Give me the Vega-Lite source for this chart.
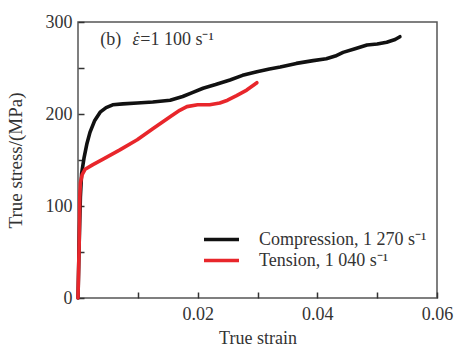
{
  "$schema": "https://vega.github.io/schema/vega-lite/v6.json",
  "width": 359,
  "height": 276,
  "autosize": {"type": "none"},
  "padding": {"left": 78, "top": 22, "right": 17, "bottom": 48},
  "background": "white",
  "config": {
    "view": {"stroke": "#555555", "strokeWidth": 1.5},
    "font": "Liberation Serif",
    "axis": {
      "grid": false,
      "domain": false,
      "zindex": 1,
      "tickSize": -6,
      "tickColor": "#333333",
      "tickWidth": 1.5,
      "labelFont": "Liberation Serif",
      "labelFontSize": 18,
      "labelColor": "#333333",
      "titleFont": "Liberation Serif",
      "titleFontSize": 18,
      "titleFontWeight": "normal",
      "titleColor": "#333333"
    }
  },
  "layer": [
    {
      "data": {
        "values": [
          {"series": "Compression, 1 270 s⁻¹", "strain": 0.0, "stress": 0},
          {"series": "Compression, 1 270 s⁻¹", "strain": 0.0002, "stress": 60},
          {"series": "Compression, 1 270 s⁻¹", "strain": 0.0004, "stress": 110},
          {"series": "Compression, 1 270 s⁻¹", "strain": 0.0006, "stress": 135},
          {"series": "Compression, 1 270 s⁻¹", "strain": 0.0010, "stress": 152},
          {"series": "Compression, 1 270 s⁻¹", "strain": 0.0015, "stress": 168},
          {"series": "Compression, 1 270 s⁻¹", "strain": 0.0020, "stress": 180},
          {"series": "Compression, 1 270 s⁻¹", "strain": 0.0028, "stress": 193},
          {"series": "Compression, 1 270 s⁻¹", "strain": 0.0037, "stress": 202},
          {"series": "Compression, 1 270 s⁻¹", "strain": 0.0047, "stress": 207},
          {"series": "Compression, 1 270 s⁻¹", "strain": 0.0058, "stress": 210},
          {"series": "Compression, 1 270 s⁻¹", "strain": 0.0075, "stress": 211},
          {"series": "Compression, 1 270 s⁻¹", "strain": 0.0099, "stress": 212},
          {"series": "Compression, 1 270 s⁻¹", "strain": 0.0125, "stress": 213},
          {"series": "Compression, 1 270 s⁻¹", "strain": 0.0154, "stress": 215},
          {"series": "Compression, 1 270 s⁻¹", "strain": 0.0175, "stress": 219},
          {"series": "Compression, 1 270 s⁻¹", "strain": 0.0190, "stress": 223},
          {"series": "Compression, 1 270 s⁻¹", "strain": 0.0209, "stress": 228},
          {"series": "Compression, 1 270 s⁻¹", "strain": 0.0230, "stress": 232},
          {"series": "Compression, 1 270 s⁻¹", "strain": 0.0254, "stress": 237},
          {"series": "Compression, 1 270 s⁻¹", "strain": 0.0275, "stress": 242},
          {"series": "Compression, 1 270 s⁻¹", "strain": 0.0299, "stress": 246},
          {"series": "Compression, 1 270 s⁻¹", "strain": 0.0320, "stress": 249},
          {"series": "Compression, 1 270 s⁻¹", "strain": 0.0338, "stress": 251},
          {"series": "Compression, 1 270 s⁻¹", "strain": 0.0365, "stress": 255},
          {"series": "Compression, 1 270 s⁻¹", "strain": 0.0393, "stress": 258},
          {"series": "Compression, 1 270 s⁻¹", "strain": 0.0415, "stress": 260},
          {"series": "Compression, 1 270 s⁻¹", "strain": 0.0430, "stress": 263},
          {"series": "Compression, 1 270 s⁻¹", "strain": 0.0443, "stress": 267},
          {"series": "Compression, 1 270 s⁻¹", "strain": 0.0463, "stress": 271},
          {"series": "Compression, 1 270 s⁻¹", "strain": 0.0483, "stress": 275},
          {"series": "Compression, 1 270 s⁻¹", "strain": 0.0500, "stress": 276},
          {"series": "Compression, 1 270 s⁻¹", "strain": 0.0516, "stress": 278},
          {"series": "Compression, 1 270 s⁻¹", "strain": 0.0530, "stress": 281},
          {"series": "Compression, 1 270 s⁻¹", "strain": 0.0538, "stress": 284},
          {"series": "Tension, 1 040 s⁻¹", "strain": 0.0, "stress": 0},
          {"series": "Tension, 1 040 s⁻¹", "strain": 0.0002, "stress": 60},
          {"series": "Tension, 1 040 s⁻¹", "strain": 0.0003, "stress": 110},
          {"series": "Tension, 1 040 s⁻¹", "strain": 0.0004, "stress": 125},
          {"series": "Tension, 1 040 s⁻¹", "strain": 0.0007, "stress": 134},
          {"series": "Tension, 1 040 s⁻¹", "strain": 0.0012, "stress": 140},
          {"series": "Tension, 1 040 s⁻¹", "strain": 0.0025, "stress": 145},
          {"series": "Tension, 1 040 s⁻¹", "strain": 0.0042, "stress": 151},
          {"series": "Tension, 1 040 s⁻¹", "strain": 0.0070, "stress": 161},
          {"series": "Tension, 1 040 s⁻¹", "strain": 0.0099, "stress": 172},
          {"series": "Tension, 1 040 s⁻¹", "strain": 0.0125, "stress": 184},
          {"series": "Tension, 1 040 s⁻¹", "strain": 0.0154, "stress": 197},
          {"series": "Tension, 1 040 s⁻¹", "strain": 0.0170, "stress": 204},
          {"series": "Tension, 1 040 s⁻¹", "strain": 0.0182, "stress": 208},
          {"series": "Tension, 1 040 s⁻¹", "strain": 0.0200, "stress": 210},
          {"series": "Tension, 1 040 s⁻¹", "strain": 0.0220, "stress": 210},
          {"series": "Tension, 1 040 s⁻¹", "strain": 0.0237, "stress": 212},
          {"series": "Tension, 1 040 s⁻¹", "strain": 0.0250, "stress": 215},
          {"series": "Tension, 1 040 s⁻¹", "strain": 0.0265, "stress": 220},
          {"series": "Tension, 1 040 s⁻¹", "strain": 0.0282, "stress": 226},
          {"series": "Tension, 1 040 s⁻¹", "strain": 0.0299, "stress": 234}
        ]
      },
      "mark": {"type": "line", "strokeWidth": 3.6, "strokeJoin": "round", "strokeCap": "round"},
      "encoding": {
        "x": {
          "field": "strain", "type": "quantitative",
          "scale": {"domain": [0, 0.06], "nice": false, "zero": false},
          "axis": {
            "title": "True strain",
            "values": [0, 0.01, 0.02, 0.03, 0.04, 0.05, 0.06],
            "format": ".2f",
            "labelExpr": "datum.value > 0.001 && round(datum.value * 100) % 2 === 0 ? datum.label : ''",
            "labelPadding": 13,
            "titlePadding": 6,
            "labelFlush": false
          }
        },
        "y": {
          "field": "stress", "type": "quantitative",
          "scale": {"domain": [0, 300], "nice": false},
          "axis": {
            "title": "True stress/(MPa)",
            "titleFontSize": 19,
            "values": [0, 50, 100, 150, 200, 250, 300],
            "labelExpr": "datum.value % 100 === 0 ? datum.label : ''",
            "labelPadding": 12,
            "titlePadding": 20
          }
        },
        "color": {
          "field": "series", "type": "nominal",
          "scale": {"domain": ["Compression, 1 270 s⁻¹", "Tension, 1 040 s⁻¹"], "range": ["#111111", "#e8262b"]},
          "legend": {
            "title": null,
            "orient": "none",
            "legendX": 133,
            "legendY": 207,
            "symbolType": "M-2,0H2",
            "symbolSize": 306,
            "symbolStrokeWidth": 3.5,
            "labelFont": "Liberation Serif",
            "labelFontSize": 18,
            "labelColor": "#333333",
            "labelOffset": 27,
            "rowPadding": 1,
            "labelLimit": 300
          }
        }
      }
    },
    {
      "data": {"values": [{"text": "(b)"}]},
      "mark": {"type": "text", "align": "left", "baseline": "alphabetic", "font": "Liberation Serif", "fontSize": 18, "color": "#333333"},
      "encoding": {"x": {"datum": 0.0037}, "y": {"datum": 275}, "text": {"field": "text"}}
    },
    {
      "data": {"values": [{"text": "ε"}]},
      "mark": {"type": "text", "align": "left", "baseline": "alphabetic", "font": "Liberation Serif", "fontSize": 18, "fontStyle": "italic", "color": "#333333"},
      "encoding": {"x": {"datum": 0.0091}, "y": {"datum": 275}, "text": {"field": "text"}}
    },
    {
      "data": {"values": [{"text": "˙"}]},
      "mark": {"type": "text", "align": "center", "baseline": "alphabetic", "font": "Liberation Serif", "fontSize": 18, "color": "#333333"},
      "encoding": {"x": {"datum": 0.0099}, "y": {"datum": 275}, "text": {"field": "text"}}
    },
    {
      "data": {"values": [{"text": "=1 100 s⁻¹"}]},
      "mark": {"type": "text", "align": "left", "baseline": "alphabetic", "font": "Liberation Serif", "fontSize": 18, "color": "#333333"},
      "encoding": {"x": {"datum": 0.0104}, "y": {"datum": 275}, "text": {"field": "text"}}
    }
  ]
}
